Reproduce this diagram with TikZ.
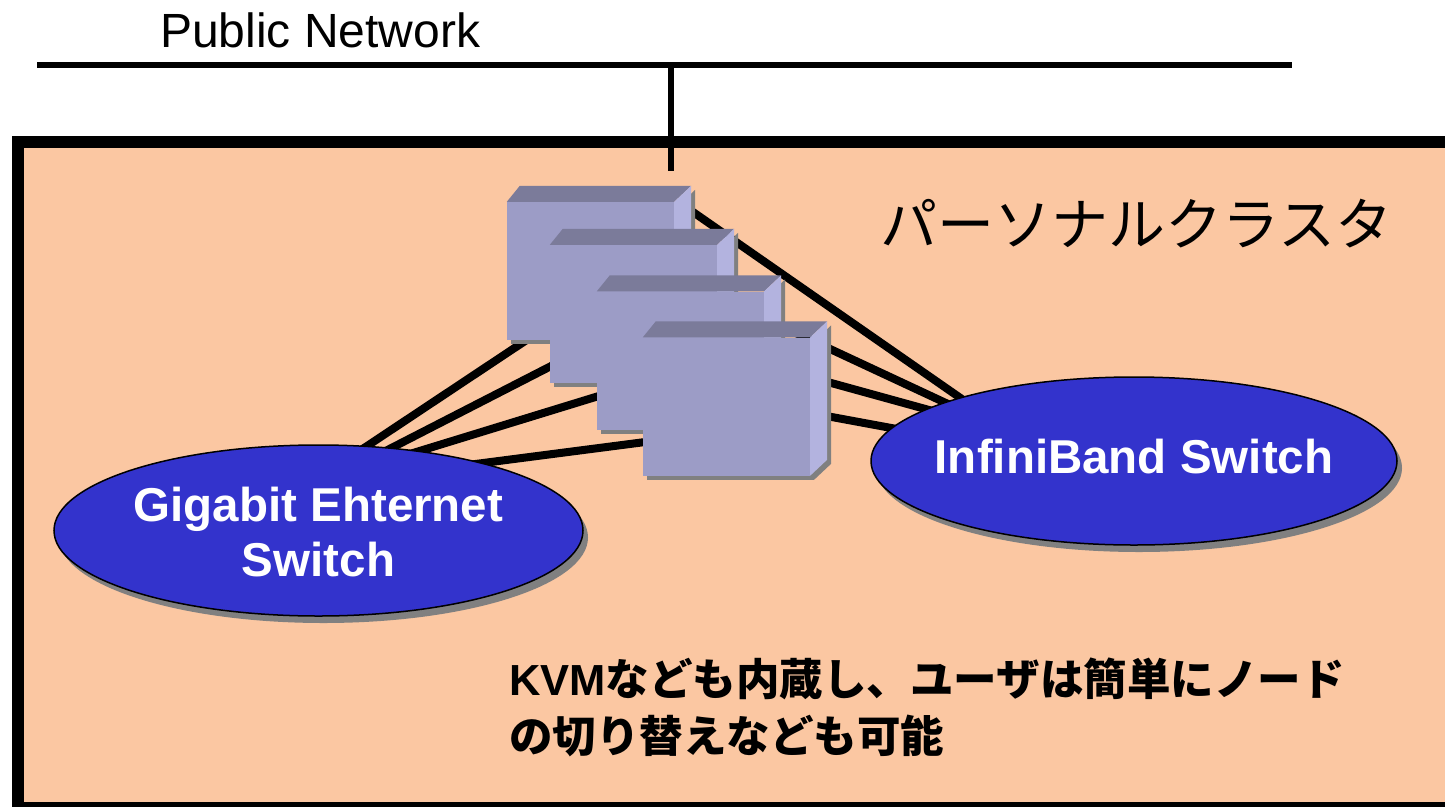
\documentclass[tikz,border=0pt]{standalone}
\usepackage{fontspec}
\setmainfont{Liberation Sans}
\newfontfamily\jpfont{Noto Sans CJK JP}
\usetikzlibrary{calc,shapes.geometric,shadows}

\definecolor{peach}{HTML}{FBC7A2}
\definecolor{switchblue}{HTML}{3333CC}
\definecolor{srvfront}{HTML}{9C9CC6}
\definecolor{srvtop}{HTML}{7B7B9A}
\definecolor{srvside}{HTML}{B3B3DF}
\definecolor{shadowgray}{HTML}{808080}

\pgfdeclarelayer{back}
\pgfdeclarelayer{cables}
\pgfsetlayers{back,cables,main}

\tikzset{
  wire/.style={line width=6pt},
  uplinkwire/.style={line width=5.5pt},
  cable/.style={line width=8pt},
  frame/.style={line width=12pt, draw=black, fill=peach},
  switch/.style={ellipse, fill=switchblue, draw=black, line width=1.5pt,
    inner sep=0pt,
    drop shadow={shadow xshift=5pt, shadow yshift=-7pt, fill=shadowgray, opacity=1}},
  switchtext/.style={inner sep=0pt, text=white, align=center,
    font=\fontsize{47.5}{55}\selectfont\bfseries},
  server/.style={rectangle, fill=srvfront, minimum width=167pt,
    minimum height=138pt, inner sep=0pt,
    drop shadow={shadow xshift=4pt, shadow yshift=-4pt, fill=shadowgray, opacity=1}},
  plain/.style={inner sep=0pt, anchor=base west},
}

\begin{document}
\begin{tikzpicture}[x=1pt,y=-1pt]
\useasboundingbox (0,0) rectangle (1445,806);

% cluster enclosure
\begin{pgfonlayer}{back}
  \draw[frame] (18,142) rectangle (1452,808);
\end{pgfonlayer}

% public network bus and the uplink into the cluster
\node[plain, font=\fontsize{48}{50}\selectfont] (pubnet) at (160,47) {Public Network};
\coordinate (pn-west) at (37,65);
\coordinate (pn-east) at (1292,65);
\coordinate (tap) at (671,65);
\coordinate (uplink) at (671,171);
\draw[wire] (pn-west) -- (pn-east);
\draw[uplinkwire] (tap) -- (uplink);

% cluster title
\node[plain, font={\fontsize{57}{60}\selectfont\jpfont}] (title) at (880,245) {パーソナルクラスタ};

% compute nodes, drawn back to front
\foreach \i/\x/\y in {1/590.5/271, 2/633.5/314, 3/680.5/360.5, 4/726.5/406.5}{
  \node[server] (b\i) at (\x,\y) {};
  \fill[shadowgray] ($(b\i.north east)+(4,4)$) -- ($(b\i.north east)+(21,-12)$)
     -- ($(b\i.south east)+(21,-12)$) -- ($(b\i.south east)+(4,4)$) -- cycle;
  \fill[srvtop] (b\i.north west) -- ($(b\i.north west)+(13,-16)$)
     -- ($(b\i.north east)+(17,-16)$) -- (b\i.north east) -- cycle;
  \fill[srvside] (b\i.north east) -- ($(b\i.north east)+(17,-16)$)
     -- ($(b\i.south east)+(17,-16)$) -- (b\i.south east) -- cycle;
}

% switches
\node[switch, minimum width=529pt, minimum height=171pt] (gbe) at (318.5,530.5) {};
\node[switchtext] (gbe-text) at ($(gbe.center)+(0,1.5)$) {Gigabit Ehternet\\Switch};
\node[switch, minimum width=526pt, minimum height=168pt] (ib) at (1134,461) {};
\node[switchtext, anchor=base] (ib-text) at ($(ib.center)+(0,12)$) {InfiniBand Switch};

% cabling between the switches and the compute nodes
\begin{pgfonlayer}{cables}
  \draw[cable] ($(gbe.center)+(24.5,-68.5)$) -- ($(b1.south west)+(33,-9)$);
  \draw[cable] ($(gbe.center)+(49.5,-70.5)$) -- ($(b2.west)+(15,45)$);
  \draw[cable] ($(gbe.center)+(81.5,-73.5)$) -- ($(b3.west)+(15,31.5)$);
  \draw[cable] ($(gbe.center)+(141.5,-64.5)$) -- ($(b4.west)+(14,34)$);
  \draw[cable] ($(b1.north east)+(7,2)$) -- ($(ib.center)+(-152,-48)$);
  \draw[cable] ($(b2.east)+(9,-13.5)$) -- ($(ib.center)+(-171,-50)$);
  \draw[cable] ($(b3.east)+(9,6.5)$) -- ($(ib.center)+(-194,-48)$);
  \draw[cable] ($(b4.east)+(8,8)$) -- ($(ib.center)+(-221,-29)$);
\end{pgfonlayer}

% note
\node[plain, font={\fontsize{43.5}{57}\selectfont\bfseries}] (note1) at (509,695)
  {KVM{\jpfont なども内蔵し、ユーザは簡単にノード}};
\node[plain, font={\fontsize{43.5}{57}\selectfont\bfseries\jpfont}] (note2) at (509,752)
  {の切り替えなども可能};
\end{tikzpicture}
\end{document}
